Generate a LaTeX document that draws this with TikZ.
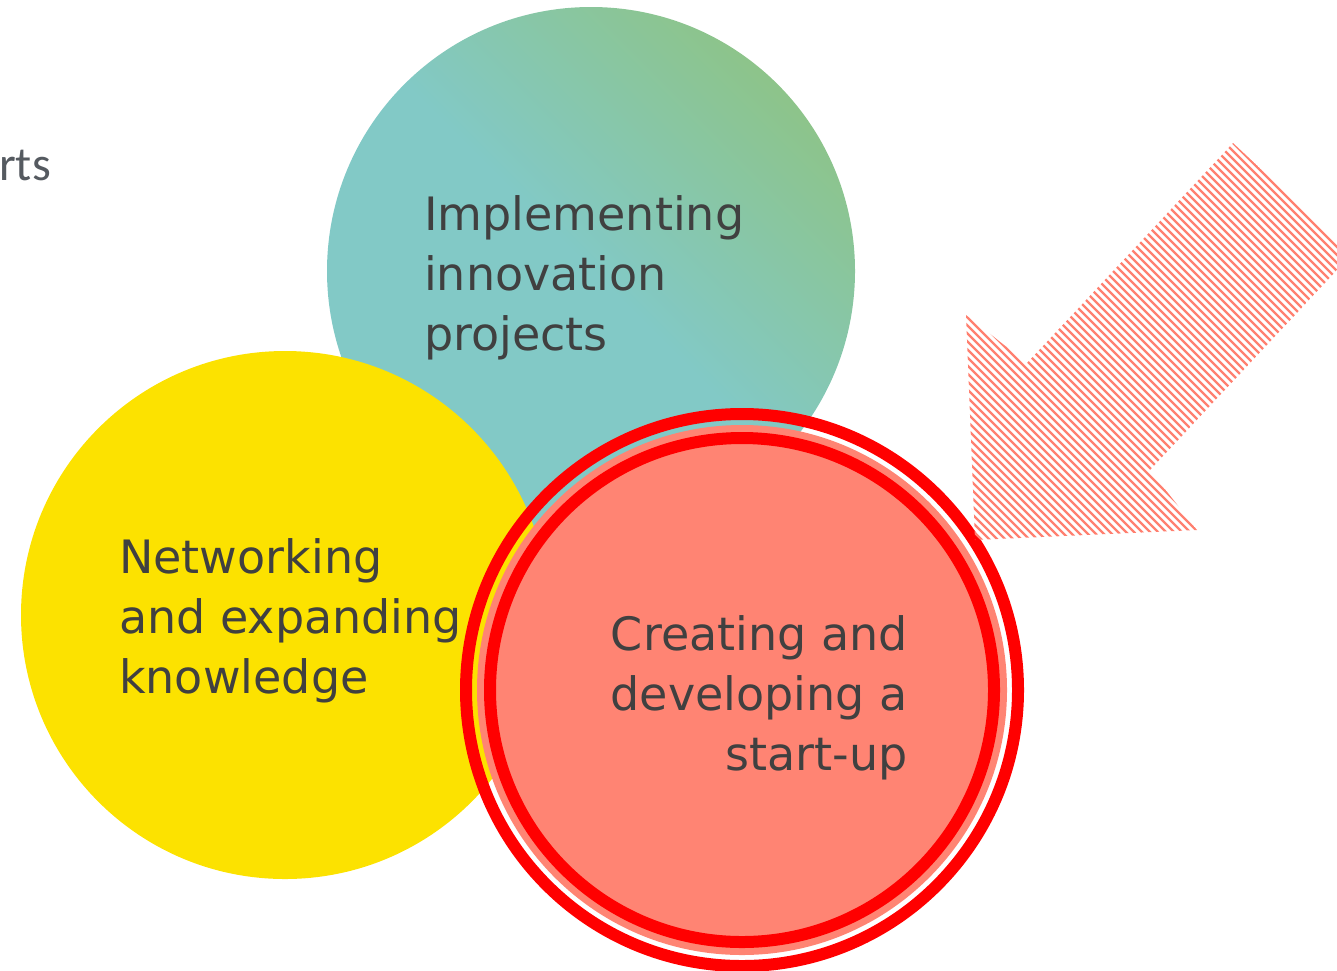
\documentclass[tikz,border=0pt]{standalone}
\usepackage{fontspec}
\setmainfont{DejaVu Sans}
\newfontfamily\rtsfont{Carlito}
\definecolor{tealc}{HTML}{82C9C6}
\definecolor{greenc}{HTML}{8DC48A}
\definecolor{yellowc}{HTML}{FCE200}
\definecolor{salmonc}{HTML}{FF8473}
\definecolor{ringred}{HTML}{FF0000}
\definecolor{hatchc}{HTML}{FF8070}
\definecolor{txtc}{HTML}{404040}
\definecolor{graytxt}{HTML}{555A60}
\begin{document}
\begin{tikzpicture}[x=1pt,y=-1pt,
  bubble/.style={circle, inner sep=0pt, minimum size=528pt},
  label/.style={inner sep=0pt, text=txtc, font=\fontsize{46pt}{60pt}\selectfont},
  ring/.style={draw=ringred, line width=12pt},
  hatchline/.style={draw=hatchc, line width=2.2pt}]
\useasboundingbox (0,0) rectangle (1337,970);
\clip (0,0) rectangle (1337,970);
% circles
\node[bubble, left color=tealc, right color=greenc, middle color=tealc, shading angle=135] (teal) at (591,271) {};
\node[bubble, fill=yellowc] (yellow) at (285,615) {};
\node[circle, inner sep=0pt, minimum size=530pt, fill=salmonc] (salmon) at (742,690) {};
\draw[ring] (salmon.center) circle[radius=252pt];
\draw[ring] (salmon.center) circle[radius=276pt];
% hatched arrow
\coordinate (T) at (975,540);
\coordinate (A) at (966,315);
\coordinate (C) at (1027,363);
\coordinate (E) at (1233,143);
\coordinate (F) at (1352,254);
\coordinate (D) at (1150,470);
\coordinate (B) at (1197,530);
\begin{scope}
  \clip (T) -- (A) -- (C) -- (E) -- (F) -- (D) -- (B) -- cycle;
  \foreach \k in {0,...,90} {
    \draw[hatchline] (420+\k*8,50) -- (1070+\k*8,700);
  }
\end{scope}
% texts
\node[label, anchor=base west, align=left] (impl) at (424,350) {Implementing\\innovation\\projects};
\node[label, anchor=base west, align=left] (netw) at (119,693) {Networking\\and expanding\\knowledge};
\node[label, anchor=base east, align=right] (creat) at (908,770) {Creating and\\developing a\\start-up};
\node[inner sep=0pt, anchor=base east, text=graytxt, font=\rtsfont\fontsize{48pt}{58pt}\selectfont] (rts) at (51,180) {rts};
\end{tikzpicture}
\end{document}
